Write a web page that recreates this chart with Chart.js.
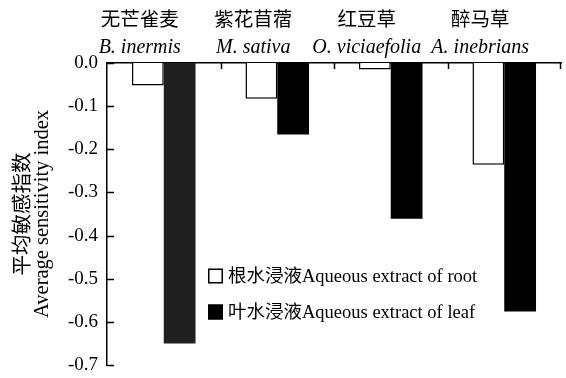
<!DOCTYPE html>
<html>
<head>
<meta charset="utf-8">
<script src="https://cdn.jsdelivr.net/npm/chart.js@4"></script>
<style>
  html, body { margin: 0; padding: 0; background: #fff; }
  #wrap { width: 566px; height: 378px; }
</style>
</head>
<body>
<div id="wrap"><canvas id="c" width="566" height="378"></canvas></div>
<script>
const speciesLatin = ['B. inermis', 'M. sativa', 'O. viciaefolia', 'A. inebrians'];
const speciesChinese = ['无芒雀麦', '紫花苜蓿', '红豆草', '醉马草'];
const rootValues = [-0.052, -0.083, -0.015, -0.236];
const leafValues = [-0.650, -0.166, -0.361, -0.576];
const seriesLabels = ['根水浸液Aqueous extract of root', '叶水浸液Aqueous extract of leaf'];
const yTitle = ['平均敏感指数', 'Average sensitivity index'];

const FONT = "'Liberation Serif', 'Times New Roman', 'Noto Sans CJK SC', serif";

const inwardTicks = {
  id: 'inwardTicks',
  afterDraw(chart) {
    const ctx = chart.ctx;
    const ca = chart.chartArea;
    const y = chart.scales.y;
    const x = chart.scales.x;
    ctx.save();
    ctx.strokeStyle = '#000';
    ctx.lineWidth = 1.5;
    ctx.beginPath();
    y.ticks.forEach(t => {
      const py = Math.round(y.getPixelForValue(t.value)) + 0.5;
      ctx.moveTo(ca.left, py);
      ctx.lineTo(ca.left + 7, py);
    });
    const n = x.ticks.length;
    for (let i = 0; i < n; i++) {
      let px;
      if (i < n - 1) px = (x.getPixelForTick(i) + x.getPixelForTick(i + 1)) / 2;
      else px = ca.right - 1;
      px = Math.round(px) + 0.5;
      ctx.moveTo(px, ca.top);
      ctx.lineTo(px, ca.top + 6);
    }
    ctx.stroke();
    ctx.restore();
  }
};

const insideLegend = {
  id: 'insideLegend',
  afterDraw(chart) {
    const ctx = chart.ctx;
    const ca = chart.chartArea;
    const x0 = ca.left + 101;
    const rows = [ca.top + 213, ca.top + 249];
    ctx.save();
    ctx.font = "18.5px " + FONT;
    ctx.textBaseline = 'middle';
    ctx.textAlign = 'left';
    chart.data.datasets.forEach((ds, i) => {
      const cy = rows[i];
      ctx.fillStyle = i === 0 ? '#fff' : '#000';
      ctx.fillRect(x0, cy - 7.5, 15, 15);
      ctx.strokeStyle = '#000';
      ctx.lineWidth = 1.5;
      ctx.strokeRect(x0 + 0.75, cy - 6.75, 13.5, 13.5);
      ctx.fillStyle = '#000';
      ctx.fillText(ds.label, x0 + 20, cy + 1);
    });
    ctx.restore();
  }
};

new Chart(document.getElementById('c'), {
  type: 'bar',
  data: {
    labels: speciesLatin,
    datasets: [
      {
        label: seriesLabels[0],
        data: rootValues,
        backgroundColor: '#fff',
        borderColor: '#000',
        borderWidth: 1.5,
        xAxisID: 'x',
        barPercentage: 1.0,
        categoryPercentage: 0.56
      },
      {
        label: seriesLabels[1],
        data: leafValues,
        backgroundColor: ['#1f1f1f', '#000', '#000', '#000'],
        borderColor: '#000',
        borderWidth: 0,
        xAxisID: 'x',
        barPercentage: 1.0,
        categoryPercentage: 0.56
      }
    ]
  },
  options: {
    responsive: false,
    animation: false,
    devicePixelRatio: 1,
    layout: { padding: { left: 0, right: 5, top: 0, bottom: 13 } },
    plugins: {
      legend: { display: false },
      tooltip: { enabled: false }
    },
    scales: {
      x: {
        type: 'category',
        position: 'top',
        weight: 0,
        offset: true,
        grid: { display: false, drawTicks: false },
        border: { display: true, color: '#000', width: 1.5 },
        ticks: {
          color: '#000',
          font: { family: FONT, size: 20, style: 'italic', lineHeight: 1.0 },
          padding: 5,
          labelOffset: -24,
          maxRotation: 0,
          autoSkip: false
        },
        afterFit(s) { s.height = 30; }
      },
      x2: {
        type: 'category',
        position: 'top',
        weight: 1,
        labels: speciesChinese,
        offset: true,
        grid: { display: false, drawTicks: false },
        border: { display: false },
        ticks: {
          color: '#000',
          font: { family: FONT, size: 19.5, lineHeight: 1.0 },
          padding: 2.5,
          labelOffset: -24,
          maxRotation: 0,
          autoSkip: false
        },
        afterFit(s) { s.height = 33; }
      },
      y: {
        min: -0.7,
        max: 0,
        grid: { display: false, drawTicks: false },
        border: { display: true, color: '#000', width: 1.5 },
        ticks: {
          stepSize: 0.1,
          color: '#000',
          padding: 9,
          font: { family: FONT, size: 19 },
          callback: v => (Math.abs(v) < 1e-9 ? 0 : v).toFixed(1)
        },
        title: {
          display: true,
          text: yTitle,
          color: '#000',
          font: { family: FONT, size: 20.5, lineHeight: 0.92 },
          padding: { top: 14.5, bottom: 0 }
        },
        afterFit(s) { s.width = 107; s.paddingTop = 0; s.paddingBottom = 0; }
      }
    }
  },
  plugins: [inwardTicks, insideLegend]
});
</script>
</body>
</html>
